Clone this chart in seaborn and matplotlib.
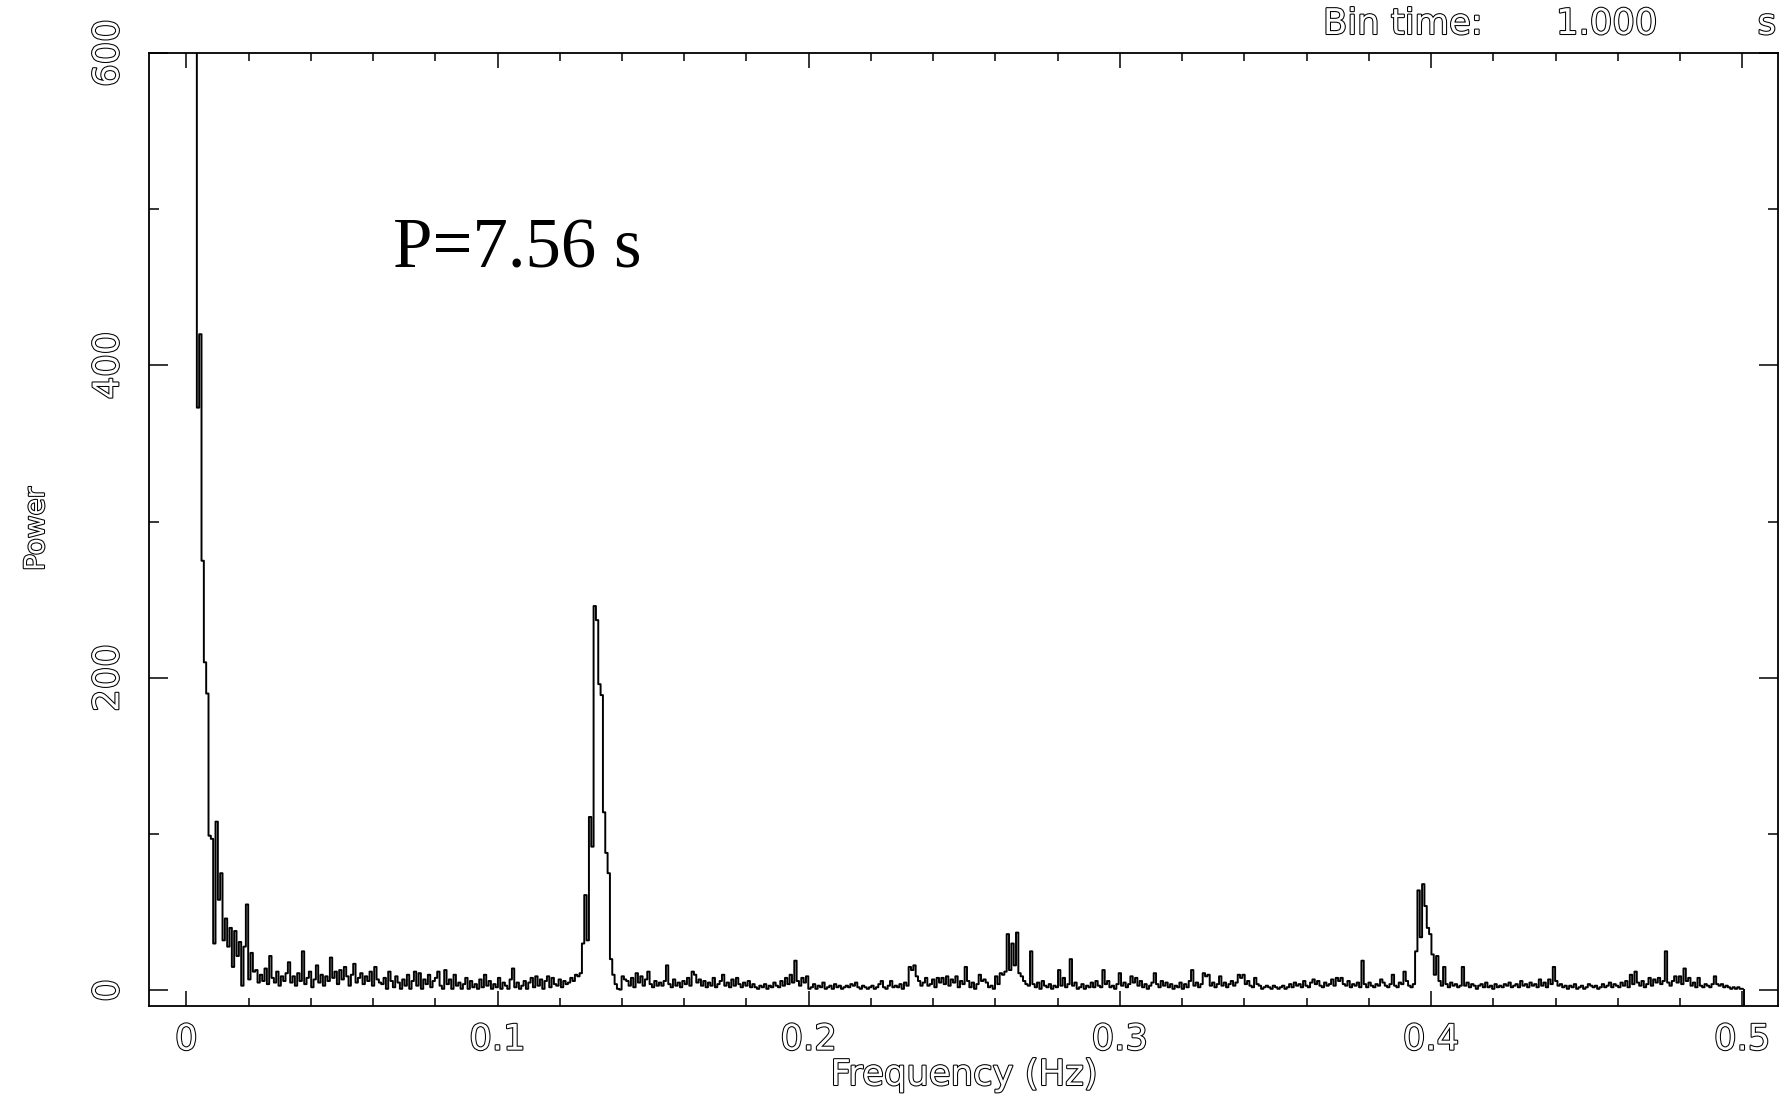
import numpy as np
import pandas as pd
import matplotlib
matplotlib.use("Agg")
import matplotlib.pyplot as plt
import seaborn as sns
from matplotlib import patheffects as pe
from matplotlib.ticker import MultipleLocator, FixedLocator, FixedFormatter

# ---------------- data ----------------
bin_start = 0.003      # Hz, centre of first frequency bin
bin_width = 0.00075    # Hz

power_lowfreq = [900, 373, 420, 275, 210, 190, 99, 97, 30, 108, 58, 75, 32, 46, 28, 40, 15, 38, 22, 31,
                 3, 28, 55, 7, 24, 12, 13, 5, 10, 6, 14, 4, 22, 8, 5, 12, 3, 9, 6, 11]
noise_a = [18, 5, 9, 3, 11, 6, 25, 4, 8, 12, 2, 7, 16, 5, 10, 3, 9, 6, 21, 8,
           12, 4, 13, 7, 15, 9, 3, 10, 17, 5, 8, 11, 4, 9, 6, 12, 3, 15, 7, 5,
           4, 8, 1, 12, 6, 2, 9, 5, 1, 7, 3, 10, 1, 6, 12, 3, 11, 1, 7, 4,
           10, 2, 6, 8, 12, 3, 1, 13, 4, 7, 1, 10, 3, 5, 1, 4, 8, 1, 6, 2,
           4, 1, 7, 2, 10, 3, 6, 1, 4, 2, 8, 1, 5, 3, 1, 7, 14, 2, 5, 1,
           3, 6, 1, 5, 8, 2, 9, 3, 7, 1, 6, 9, 2, 8, 4, 3, 7, 2, 6, 4]
peak_fund = [5, 8, 6, 10, 9, 11, 30, 61, 32, 111, 92, 246, 237, 196, 189, 114, 88, 75, 20, 10]
noise_b = [4, 1, 0.5, 9, 7, 6, 3, 8, 2, 11, 5, 9, 3, 7, 12, 4, 2, 6, 3, 5,
           3, 6, 16, 4, 2, 7, 3, 5, 2, 6, 4, 8, 3, 12, 10, 5, 7, 3, 6, 2,
           5, 3, 8, 2, 4, 6, 10, 3, 5, 2, 7, 3, 8, 4, 2, 5, 3, 6, 2, 4,
           2, 1, 3, 2, 4, 1, 3, 2, 5, 3, 2, 6, 3, 8, 4, 10, 5, 19, 6, 3,
           8, 5, 9, 1, 2, 4, 1, 3, 2, 5, 1, 2, 3, 1, 4, 2, 3, 1, 2, 3,
           2, 4, 3, 5, 2, 1, 3, 2, 1, 2, 3, 1, 2, 4, 6, 2, 1, 3, 6, 2,
           3, 2, 4, 1, 5, 3, 15, 13, 16, 9, 6, 3, 5, 8, 3, 4, 7, 2, 8, 5,
           8, 4, 9, 3, 7, 5, 9, 2, 6, 4, 15, 6, 2, 5, 1, 4, 10, 6, 7, 5]
harm2 = [2, 3, 1, 9, 4, 11, 10, 12, 36, 13, 30, 16, 37, 11, 9, 6, 4, 3, 25, 4]
noise_c = [2, 5, 1, 6, 3, 2, 4, 1, 3, 2, 13, 3, 8, 2, 4, 20, 3, 5, 1, 2,
           4, 1, 3, 2, 5, 2, 6, 3, 2, 13, 4, 6, 2, 3, 1, 4, 11, 3, 5, 2,
           4, 9, 5, 8, 3, 6, 2, 4, 1, 3, 5, 11, 4, 2, 6, 3, 5, 2, 4, 1,
           3, 2, 5, 1, 4, 2, 6, 13, 3, 5, 2, 4, 11, 9, 10, 3, 5, 2, 4, 9,
           3, 5, 2, 4, 6, 3, 5, 10, 8, 10, 4, 6, 3, 2, 8, 4, 3, 1, 2, 3,
           2, 1, 3, 2, 1, 2, 3, 1, 2, 4, 2, 5, 3, 4, 2, 6, 3, 2, 5, 7,
           4, 6, 3, 2, 5, 3, 4, 7, 3, 8, 6, 8, 4, 3, 6, 2, 4, 3, 5, 2,
           19, 4, 2, 5, 3, 2, 4, 3, 7, 5, 3, 2, 4, 10, 3, 2, 5, 4, 12, 6]
harm3 = [3, 2, 4, 25, 64, 34, 68, 54, 40, 36, 23, 10, 22, 6, 3, 15, 4, 2, 5, 3]
noise_d = [4, 2, 3, 15, 3, 5, 2, 4, 3, 1, 3, 4, 2, 5, 2, 3, 1, 4, 2, 3,
           2, 4, 3, 5, 2, 3, 4, 2, 6, 3, 4, 2, 5, 3, 4, 2, 7, 3, 5, 2,
           7, 4, 15, 6, 3, 4, 2, 3, 1, 3, 2, 4, 1, 2, 3, 1, 2, 4, 3, 2,
           3, 1, 2, 4, 2, 3, 5, 2, 4, 3, 2, 5, 3, 6, 2, 10, 4, 12, 5, 3,
           6, 2, 4, 8, 3, 7, 5, 8, 4, 6, 25, 5, 3, 6, 9, 5, 9, 4, 14, 6,
           8, 3, 5, 2, 8, 3, 2, 4, 3, 2, 4, 9, 4, 3, 4, 2, 3, 2, 1, 2,
           1, 2, 1, 1]

x_ticks = [0, 0.1, 0.2, 0.3, 0.4, 0.5]
x_ticklabels = ["0", "0.1", "0.2", "0.3", "0.4", "0.5"]
y_ticks = [0, 200, 400, 600]
y_ticklabels = ["0", "200", "400", "600"]

power = np.concatenate([power_lowfreq, noise_a, peak_fund, noise_b, harm2,
                        noise_c, harm3, noise_d]).astype(float)
freq = bin_start + bin_width * np.arange(len(power))
df = pd.DataFrame({"Frequency": freq, "Power": power})

# ---------------- figure ----------------
sns.set_theme(style="white")
plt.rcParams["font.family"] = ["DejaVu Sans"]

W, H = 1784, 1097
fig = plt.figure(figsize=(W / 100, H / 100), dpi=100)
ax = fig.add_axes([149 / W, 1 - 1006 / H, (1778 - 149) / W, (1006 - 53) / H])

sns.lineplot(data=df, x="Frequency", y="Power", ax=ax, estimator=None,
             drawstyle="steps-mid", color="black", linewidth=1.4)
# closing edge of the last bin
ax.vlines(freq[-1] + bin_width / 2, -10, power[-1], color="black", linewidth=1.4)

ax.set_xlim(-0.012, 0.5115)
ax.set_ylim(-10, 600)
ax.set_xlabel("")
ax.set_ylabel("")

ax.xaxis.set_major_locator(FixedLocator(x_ticks))
ax.xaxis.set_major_formatter(FixedFormatter(x_ticklabels))
ax.xaxis.set_minor_locator(MultipleLocator(0.02))
ax.yaxis.set_major_locator(FixedLocator(y_ticks))
ax.yaxis.set_major_formatter(FixedFormatter(y_ticklabels))
ax.yaxis.set_minor_locator(MultipleLocator(100))

for s in ax.spines.values():
    s.set_color("black")
    s.set_linewidth(1.3)

TS = 25.5
ax.tick_params(which="both", direction="in", top=True, right=True,
               bottom=True, left=True, color="black", width=1.1)
ax.tick_params(axis="x", which="major", length=11, pad=12, labelsize=TS)
ax.tick_params(axis="x", which="minor", length=5.5)
ax.tick_params(axis="y", which="major", length=13.5, pad=17, labelsize=TS)
ax.tick_params(axis="y", which="minor", length=7)

hollow = [pe.withStroke(linewidth=1.5, foreground="black")]

for lbl in ax.get_yticklabels():
    lbl.set_rotation(90)
    lbl.set_va("center")
    lbl.set_ha("right")
for t in ax.xaxis.get_major_ticks() + ax.yaxis.get_major_ticks():
    t.label1.set_color("white")
    t.label1.set_path_effects(hollow)

txt_kw = dict(color="white", path_effects=hollow)
fig.text(964 / W, 1 - 1075 / H, "Frequency (Hz)", ha="center", va="center",
         fontsize=25.5, **txt_kw)
fig.text(36 / W, 1 - 529 / H, "Power", ha="center", va="center",
         rotation=90, fontsize=20, **txt_kw)
fig.text(1323 / W, 1 - 34 / H, "Bin time:", ha="left", va="baseline",
         fontsize=TS, **txt_kw)
fig.text(1556 / W, 1 - 34 / H, "1.000", ha="left", va="baseline",
         fontsize=TS, **txt_kw)
fig.text(1776 / W, 1 - 34 / H, "s", ha="right", va="baseline",
         fontsize=TS, **txt_kw)

fig.text(393 / W, 1 - 267 / H, "P=7.56 s", ha="left", va="baseline",
         fontsize=51, family="Liberation Serif", color="black")

fig.savefig("out.png", dpi=100, facecolor="white")
